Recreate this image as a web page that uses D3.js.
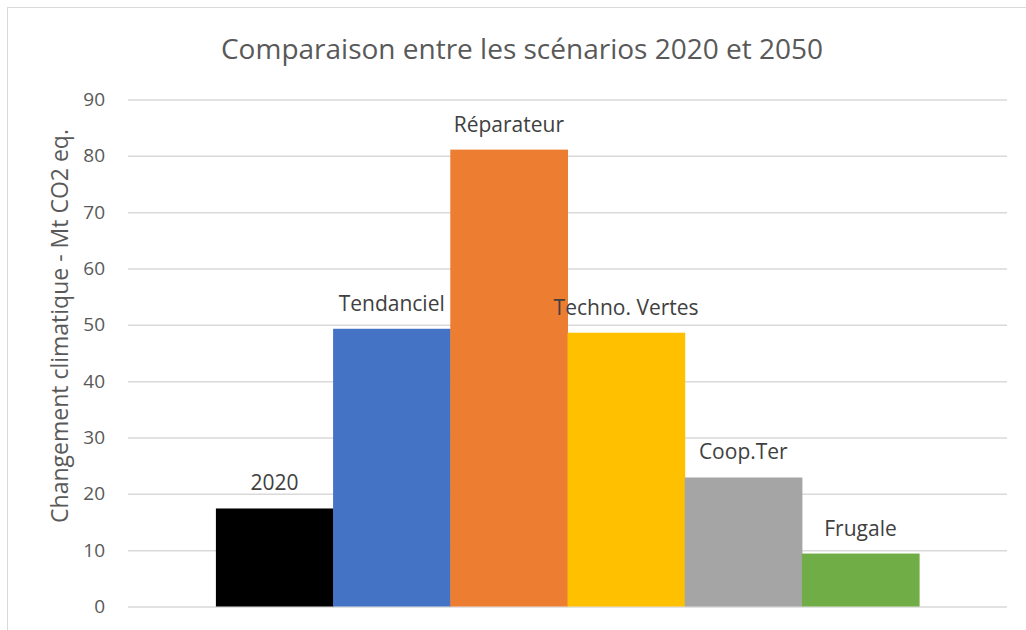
<!DOCTYPE html>
<html>
<head>
<meta charset="utf-8">
<script src="https://cdn.jsdelivr.net/npm/d3@7"></script>
<style>
  html, body { margin: 0; padding: 0; background: #ffffff; }
  svg { display: block; font-family: "Open Sans", "Noto Sans", sans-serif; }
</style>
</head>
<body>
<svg id="chart" width="1026" height="630"></svg>
<script>
// Scenario names (one bar per series), emissions in Mt CO2 eq.
const categories = ["2020", "Tendanciel", "Réparateur", "Techno. Vertes", "Coop.Ter", "Frugale"];
const values = [17.4, 49.3, 81.1, 48.6, 22.9, 9.4];
const barColors = ["#000000", "#4472C4", "#ED7D31", "#FFC000", "#A5A5A5", "#70AD47"];
const yTicks = [0, 10, 20, 30, 40, 50, 60, 70, 80, 90];

const titleText = "Comparaison entre les scénarios 2020 et 2050";
const yAxisTitle = "Changement climatique - Mt CO2 eq.";

const svg = d3.select("#chart");

// Chart frame (only its top and left edges fall inside the view)
svg.append("rect")
  .attr("x", 7.5).attr("y", 7.5)
  .attr("width", 1040).attr("height", 650)
  .attr("fill", "#ffffff")
  .attr("stroke", "#D9D9D9")
  .attr("stroke-width", 1);

const plot = { left: 128, right: 1007, top: 99.5, bottom: 606.5 };

const y = d3.scaleLinear()
  .domain([0, 90])
  .range([plot.bottom, plot.top]);

// One category group holding all series, bars side by side with a 150% gap
const x0 = d3.scaleBand()
  .domain(["2050"])
  .range([plot.left, plot.right])
  .paddingInner(0)
  .paddingOuter(0.125);

const x1 = d3.scaleBand()
  .domain(categories)
  .range([0, x0.bandwidth()])
  .padding(0);

// Gridlines and tick labels
const yAxis = d3.axisLeft(y)
  .tickValues(yTicks)
  .tickSize(-(plot.right - plot.left))
  .tickPadding(23)
  .tickFormat(d3.format("d"));

const gAxis = svg.append("g")
  .attr("transform", `translate(${plot.left},0)`)
  .call(yAxis);

gAxis.select(".domain").remove();
gAxis.selectAll(".tick line")
  .attr("stroke", "#D9D9D9")
  .attr("stroke-width", 1.5);
gAxis.selectAll(".tick text")
  .attr("fill", "#595959")
  .style("font-size", "19px")
  .style("font-family", "'Open Sans', sans-serif");

// Bars
const gBars = svg.append("g")
  .attr("transform", `translate(${x0("2050")},0)`);

gBars.selectAll("rect")
  .data(categories)
  .join("rect")
  .attr("x", d => x1(d))
  .attr("width", x1.bandwidth() + 0.5)
  .attr("y", (d, i) => y(values[i]))
  .attr("height", (d, i) => y(0) - y(values[i]))
  .attr("fill", (d, i) => barColors[i]);

// Series name labels above each bar
gBars.selectAll("text")
  .data(categories)
  .join("text")
  .attr("x", d => x1(d) + x1.bandwidth() / 2)
  .attr("y", (d, i) => y(values[i]) - 18)
  .attr("text-anchor", "middle")
  .attr("fill", "#404040")
  .style("font-size", "21px")
  .text(d => d);

// Chart title
svg.append("text")
  .attr("x", 522)
  .attr("y", 59)
  .attr("text-anchor", "middle")
  .attr("fill", "#595959")
  .style("font-size", "28px")
  .text(titleText);

// Vertical axis title
svg.append("text")
  .attr("transform", "translate(68,326) rotate(-90)")
  .attr("text-anchor", "middle")
  .attr("fill", "#595959")
  .style("font-size", "23px")
  .text(yAxisTitle);
</script>
</body>
</html>
